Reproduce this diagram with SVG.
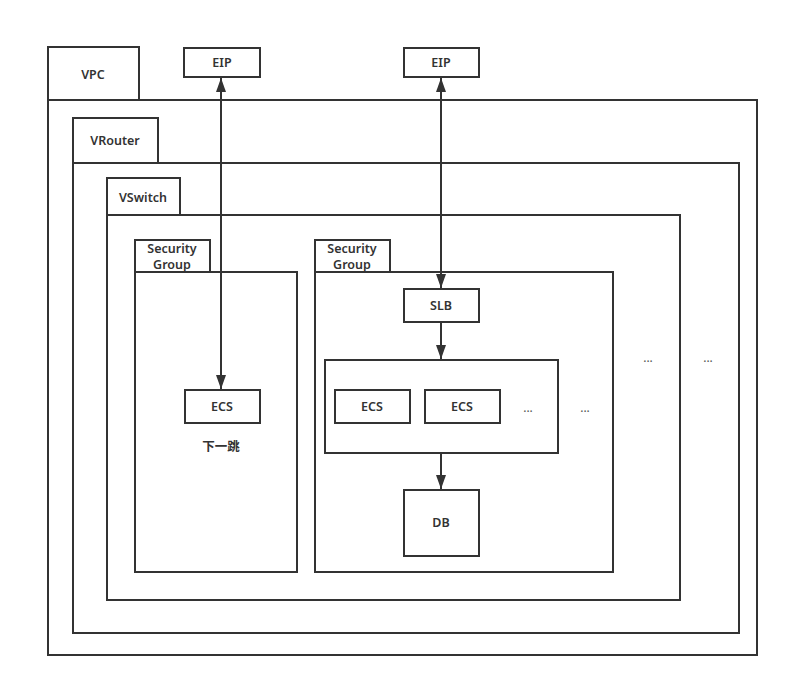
<svg xmlns="http://www.w3.org/2000/svg" width="789" height="687" viewBox="0 0 789 687">
<style>
  .box { fill: #ffffff; stroke: #333333; stroke-width: 2; }
  .t { font-family: "Noto Sans", "Noto Sans CJK SC", sans-serif; font-size: 12.5px; font-weight: 600; fill: #333333; text-anchor: middle; dominant-baseline: central; }
  .conn { stroke: #333333; stroke-width: 2; fill: none; }
  .dots { font-family: "Noto Sans", sans-serif; font-size: 12px; fill: #555555; text-anchor: middle; }
</style>
<defs>
  <marker id="ah" viewBox="0 0 14 10" refX="14" refY="5" markerWidth="14" markerHeight="10" markerUnits="userSpaceOnUse" orient="auto-start-reverse">
    <path d="M0,0 L14,5 L0,10 Z" fill="#333333"/>
  </marker>
</defs>
<rect width="789" height="687" fill="#ffffff"/>
<g id="vpc">
  <rect class="box" x="48" y="100" width="709" height="555"/>
  <rect class="box" x="48" y="47" width="91" height="53"/>
  <text class="t" x="93" y="74">VPC</text>
</g>
<g id="vrouter">
  <rect class="box" x="73" y="163" width="666" height="470"/>
  <rect class="box" x="73" y="118" width="85" height="45"/>
  <text class="t" x="115" y="140">VRouter</text>
</g>
<g id="vswitch">
  <rect class="box" x="107" y="215" width="573" height="385"/>
  <rect class="box" x="107" y="178" width="73" height="37"/>
  <text class="t" x="143" y="197">VSwitch</text>
</g>
<g id="sg1">
  <rect class="box" x="135" y="272" width="162" height="300"/>
  <rect class="box" x="135" y="240" width="75" height="32"/>
  <text class="t" x="172" y="248">Security</text>
  <text class="t" x="172" y="264">Group</text>
</g>
<g id="sg2">
  <rect class="box" x="315" y="272" width="298" height="300"/>
  <rect class="box" x="315" y="240" width="75" height="32"/>
  <text class="t" x="352" y="248">Security</text>
  <text class="t" x="352" y="264">Group</text>
</g>
<g id="eip1">
  <rect class="box" x="184" y="48" width="76" height="29"/>
  <text class="t" x="222" y="62">EIP</text>
</g>
<g id="eip2">
  <rect class="box" x="404" y="48" width="75" height="29"/>
  <text class="t" x="441" y="62">EIP</text>
</g>
<g id="ecs-left">
  <rect class="box" x="185" y="390" width="75" height="33"/>
  <text class="t" x="222" y="406">ECS</text>
  <text class="t" x="221" y="446">下一跳</text>
</g>
<g id="slb">
  <rect class="box" x="404" y="289" width="75" height="33"/>
  <text class="t" x="441" y="305">SLB</text>
</g>
<g id="ecs-group">
  <rect class="box" x="325" y="360" width="233" height="93"/>
</g>
<g id="ecs1">
  <rect class="box" x="335" y="390" width="75" height="33"/>
  <text class="t" x="372" y="406">ECS</text>
</g>
<g id="ecs2">
  <rect class="box" x="425" y="390" width="75" height="33"/>
  <text class="t" x="462" y="406">ECS</text>
</g>
<g id="db">
  <rect class="box" x="404" y="490" width="75" height="66"/>
  <text class="t" x="441" y="522">DB</text>
</g>
<g id="ellipses">
  <text class="dots" x="528" y="412">...</text>
  <text class="dots" x="585" y="412">...</text>
  <text class="dots" x="648" y="362">...</text>
  <text class="dots" x="708" y="362">...</text>
</g>
<g id="connectors">
  <line class="conn" x1="221" y1="78" x2="221" y2="389" marker-start="url(#ah)" marker-end="url(#ah)"/>
  <line class="conn" x1="441" y1="78" x2="441" y2="288" marker-start="url(#ah)" marker-end="url(#ah)"/>
  <line class="conn" x1="441" y1="323" x2="441" y2="359" marker-end="url(#ah)"/>
  <line class="conn" x1="441" y1="454" x2="441" y2="489" marker-end="url(#ah)"/>
</g>
</svg>
